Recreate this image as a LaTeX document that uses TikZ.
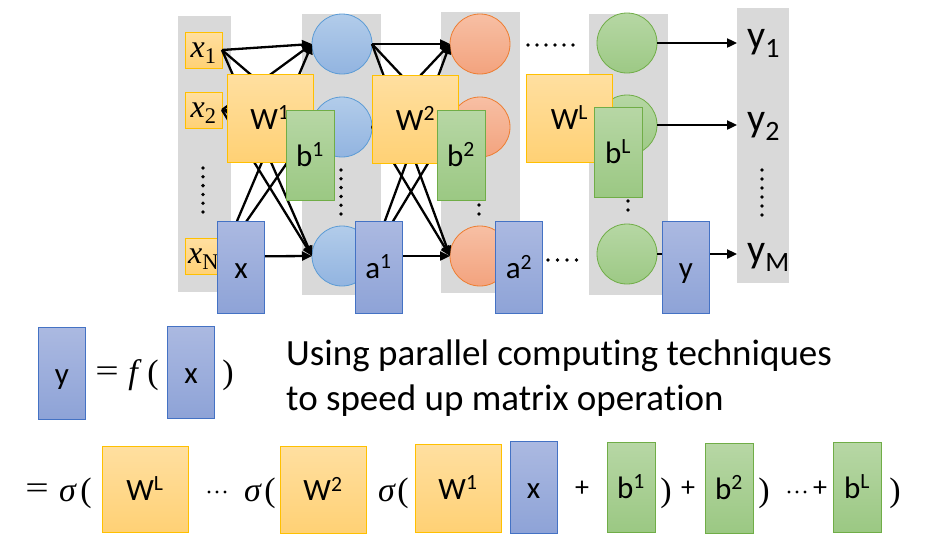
\documentclass[tikz,border=0pt]{standalone}
\usepackage{fontspec}
\setmainfont{Carlito}[Ligatures=NoCommon]
\newfontfamily\serfont{Liberation Serif}
\usetikzlibrary{arrows.meta}
\definecolor{colgray}{HTML}{D9D9D9}
\definecolor{bltop}{HTML}{ABB9E1}
\definecolor{blbot}{HTML}{8EA3D7}
\definecolor{blbd}{HTML}{4472C4}
\definecolor{ortop}{HTML}{FFDFA0}
\definecolor{orbot}{HTML}{FFD175}
\definecolor{orbd}{HTML}{FFC000}
\definecolor{grtop}{HTML}{B7D7A5}
\definecolor{grbot}{HTML}{9BC883}
\definecolor{grbd}{HTML}{70AD47}
\definecolor{nbtop}{HTML}{B2CCEA}
\definecolor{nbbot}{HTML}{92B4E0}
\definecolor{nbbd}{HTML}{5B9BD5}
\definecolor{notop}{HTML}{F7BFA4}
\definecolor{nobot}{HTML}{F3A37E}
\definecolor{nobd}{HTML}{ED7D31}
\definecolor{ngtop}{HTML}{B6D7A4}
\definecolor{ngbot}{HTML}{9DC985}
\definecolor{ngbd}{HTML}{70AD47}
\tikzset{
  col/.style={fill=colgray, draw=none, inner sep=0, outer sep=0},
  boxbase/.style={line width=0.8pt, inner sep=0, outer sep=0,
    text height=26pt, text depth=4pt, font=\fontsize{31}{33}\selectfont},
  inbox/.style={draw=orbd, top color=ortop, bottom color=orbot, line width=0.8pt,
    inner sep=0, outer sep=0, minimum width=37pt, minimum height=36pt,
    text height=18pt, text depth=4pt, font=\fontsize{32}{34}\selectfont\serfont\itshape},
  wbox/.style={boxbase, draw=orbd, top color=ortop, bottom color=orbot,
    minimum width=86pt, minimum height=88pt},
  bbox/.style={boxbase, draw=grbd, top color=grtop, bottom color=grbot,
    minimum width=48pt, minimum height=90pt},
  bluebox/.style={boxbase, draw=blbd, top color=bltop, bottom color=blbot,
    minimum width=47pt, minimum height=92pt},
  neuron/.style={circle, line width=0.8pt, minimum size=60pt, inner sep=0, outer sep=0},
  nblue/.style={neuron, draw=nbbd, top color=nbtop, bottom color=nbbot},
  norange/.style={neuron, draw=nobd, top color=notop, bottom color=nobot},
  ngreen/.style={neuron, draw=ngbd, top color=ngtop, bottom color=ngbot},
  conn/.style={line width=2.3pt, -{Triangle[length=10pt,width=9pt]}},
  ylab/.style={anchor=base west, inner sep=0, font=\fontsize{40}{42}\selectfont},
  mth/.style={anchor=base, inner sep=0, font=\fontsize{34}{36}\selectfont\serfont},
  eqs/.style={inner sep=0, font=\fontsize{32}{34}\selectfont\serfont},
  plus/.style={inner sep=0, font=\fontsize{28}{30}\selectfont},
  bigtxt/.style={anchor=base west, inner sep=0, font=\fontsize{37}{40}\selectfont},
}
\newcommand{\vdotsat}[4]{\foreach \k in {0,...,#4} \fill (#1,#2+\k*#3) circle (1.9pt);}
\newcommand{\hdotsat}[5]{\foreach \k in {0,...,#4} \fill (#1+\k*#3,#2) circle (#5);}
\newcommand{\isub}[1]{\textsubscript{\upshape #1}}
\begin{document}
\begin{tikzpicture}[x=1pt,y=-1pt]
\useasboundingbox (0,0) rectangle (928,549);
% gray columns
\node[col, minimum width=53pt, minimum height=276pt] (col0) at (204.5,154) {};
\node[col, minimum width=79pt, minimum height=281pt] (col1) at (341.5,154.5) {};
\node[col, minimum width=79pt, minimum height=281pt] (col2) at (480.5,152.5) {};
\node[col, minimum width=79pt, minimum height=281pt] (colL) at (628.5,154.5) {};
\node[col, minimum width=52pt, minimum height=275pt] (colY) at (763,145.5) {};
% inputs
\node[inbox] (i1) at (203.5,50) {x\isub{1}};
\node[inbox] (i2) at (203.5,110) {x\isub{2}};
\node[inbox] (i3) at (203.5,256.5) {x\isub{N}};
% neurons
\node[nblue] (n11) at (342,44) {};
\node[nblue] (n12) at (342,127) {};
\node[nblue] (n13) at (342,256) {};
\node[norange] (n21) at (480,44) {};
\node[norange] (n22) at (480,127) {};
\node[norange] (n23) at (480,256) {};
\node[ngreen] (nL1) at (627,43) {};
\node[ngreen] (nL2) at (627,125) {};
\node[ngreen] (nL3) at (627,254) {};
% output coordinates and labels
\coordinate (o1) at (737,43);
\coordinate (o2) at (737,125);
\coordinate (o3) at (737,254);
\node[ylab] (y1) at (747,48) {y\textsubscript{1}};
\node[ylab] (y2) at (747,131) {y\textsubscript{2}};
\node[ylab] (yM) at (747,262) {y\textsubscript{M}};
% dots
\vdotsat{203}{168}{8.8}{5}
\vdotsat{341}{170}{8.8}{5}
\vdotsat{762}{170}{9}{5}
\vdotsat{479}{205}{9}{1}
\vdotsat{628}{201}{9}{1}
\hdotsat{528}{45}{9}{5}{1.9pt}
\hdotsat{548}{260}{9.5}{3}{1.9pt}
% connections input -> layer 1
\foreach \j in {1,2,3} {
  \draw[conn] (i1.east) -- (n1\j.west);
  \draw[conn] (i3.east) -- (n1\j.west);
}
\draw[conn] (i2.east) -- (n11.west);
\draw[conn] (i2.east) -- (n13.west);
\draw[conn] (n12.west) -- (i2.east);
% layer 1 -> layer 2
\foreach \i in {1,2,3} \foreach \j in {1,2,3}
  \draw[conn] (n1\i.east) -- (n2\j.west);
% layer L -> outputs
\draw[conn] (nL1.east) -- (o1);
\draw[conn] (nL2.east) -- (o2);
\draw[conn] (nL3.east) -- (o3);
% matrices and vectors on top
\node[wbox] (W1) at (270,118) {W\textsuperscript{1}};
\node[wbox] (W2) at (415.5,119) {W\textsuperscript{2}};
\node[wbox] (WL) at (569.5,118) {W\textsuperscript{L}};
\node[bbox] (b1) at (310,155) {b\textsuperscript{1}};
\node[bbox] (b2) at (461,155) {b\textsuperscript{2}};
\node[bbox] (bL) at (618,152) {b\textsuperscript{L}};
\node[bluebox] (xv) at (241,267) {x};
\node[bluebox] (a1) at (378.5,267) {a\textsuperscript{1}};
\node[bluebox] (a2) at (519,267.5) {a\textsuperscript{2}};
\node[bluebox] (yv) at (686,267.5) {y};
% y = f(x)
\node[bluebox] (ey) at (62,373) {y};
\node[eqs] (e1) at (107,374) {\scalebox{1.3}[1]{=}};
\node[mth] (e2) at (135,383) {\textit{f}};
\node[mth] (e3) at (153,383) {(};
\node[bluebox] (ex) at (191,372) {x};
\node[mth] (e4) at (228,383) {)};
\node[bigtxt] (t1) at (286,365) {Using parallel computing techniques};
\node[bigtxt] (t2) at (286,410) {to speed up matrix operation};
% expanded formula
\node[eqs] (f1) at (37,491) {\scalebox{1.3}[1]{=}};
\node[mth] (f2) at (68,501) {\textit{σ}};
\node[mth] (f3) at (86,501) {(};
\node[wbox, minimum height=86pt] (fWL) at (145,489) {W\textsuperscript{L}};
\hdotsat{209}{492}{8}{2}{1.7pt}
\node[mth] (f4) at (253,501) {\textit{σ}};
\node[mth] (f5) at (270,501) {(};
\node[wbox, minimum height=87pt] (fW2) at (323,489.5) {W\textsuperscript{2}};
\node[mth] (f6) at (387,501) {\textit{σ}};
\node[mth] (f7) at (403,501) {(};
\node[wbox] (fW1) at (458,488) {W\textsuperscript{1}};
\node[bluebox] (fx) at (533.5,487) {x};
\node[plus] (p1) at (582,489) {+};
\node[bbox] (fb1) at (631,487) {b\textsuperscript{1}};
\node[mth] (f8) at (666,501) {)};
\node[plus] (p2) at (688,489) {+};
\node[bbox] (fb2) at (729,488) {b\textsuperscript{2}};
\node[mth] (f9) at (764,501) {)};
\hdotsat{789}{492}{8}{2}{1.7pt}
\node[plus] (p3) at (820,489) {+};
\node[bbox] (fbL) at (857,487) {b\textsuperscript{L}};
\node[mth] (f10) at (895,501) {)};
\end{tikzpicture}
\end{document}
